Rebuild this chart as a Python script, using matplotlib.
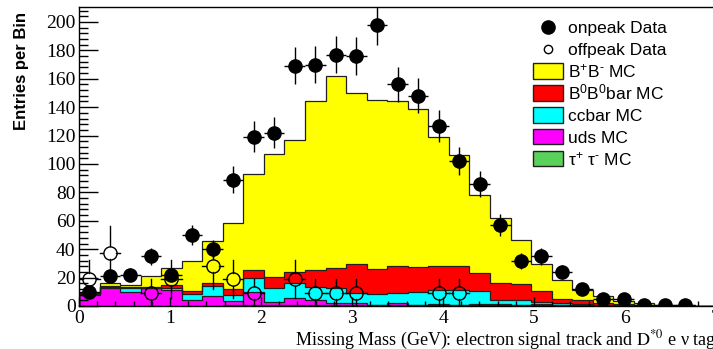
import numpy as np
import matplotlib.pyplot as plt
from matplotlib.patches import Rectangle
from matplotlib.lines import Line2D

# 31 bins of missing mass from 0 to 7 GeV
nbins = 31
edges = np.linspace(0, 7, nbins + 1)
centers = 0.5 * (edges[:-1] + edges[1:])
half = 0.5 * (edges[1] - edges[0])

# Monte Carlo components (entries per bin), stacked bottom to top
tautau = [0, 0, 0, 0, 0, 0.3, 0, 0.5, 0.5, 0.5, 0.5, 0.5, 0.5, 0.5, 0.5, 0.5,
          0.5, 0.5, 0.5, 0.5, 0.5, 0.5, 0.5, 0.5, 0.3, 0.2, 0.1, 0, 0, 0, 0]
uds = [8, 13, 10, 12.5, 11.5, 3.9, 7, 3, 9.4, 2, 5.4, 3.7, 1.8, 1.8, 0.5, 1.5,
       0.5, 1, 0.5, 1, 1, 0.5, 1, 0.5, 0.2, 0.2, 0.1, 0, 0, 0, 0]
ccbar = [0.5, 0.5, 3, 0.5, 1.5, 4.5, 7, 4, 10.1, 10.5, 10.1, 8.9, 10.1, 7.1, 7.2, 7.4,
         8.6, 9.5, 10.5, 9, 2.7, 3, 1.5, 1, 1, 0.6, 0.4, 0.2, 0, 0, 0]
b0b0bar = [0.5, 0.5, 0.3, 0.5, 1.5, 2, 2.5, 4.5, 5.2, 7.6, 8.2, 12.3, 14.1, 19.9, 17.8, 19,
           18.1, 17.4, 16.9, 13, 11.8, 11.5, 7.6, 3, 2.7, 1.3, 0.8, 0.5, 0.3, 0.2, 0.1]
bpbm = [0.5, 2, 1.2, 7.5, 12, 21.3, 29.5, 46.5, 67.8, 86.4, 92.8, 118.6, 135.5, 120.7, 119, 116,
        111, 90.8, 77.9, 54.5, 45.7, 31, 19, 13.3, 6.8, 4.5, 2.4, 1.3, 0.7, 0.3, 0.1]

# data
onpeak = [10, 21, 22, 35, 22, 50, 40, 89, 119, 122, 169, 170, 177, 176, 198, 156,
          148, 127, 102, 86, 57, 32, 35, 24, 12, 5, 5, 1, 1, 1, 0]
offpeak_counts = [2, 4, 0, 1, 2, 0, 3, 2, 1, 0, 2, 1, 1, 1, 0, 0,
                  0, 1, 1, 0, 0, 0, 0, 0, 0, 0, 0, 0, 0, 0, 0]
offpeak_scale = 9.4

legend_labels = ["onpeak Data", "offpeak Data", r"B$^{+}$B$^{\text{-}}$ MC",
                 "B$^{0}$B$^{0}$bar MC", "ccbar MC", "uds MC", r"τ$^{+}$ τ$^{\text{-}}$ MC"]

yellow, red, cyan, magenta, green = "#ffff00", "#ff0000", "#00ffff", "#ff00ff", "#5ad15a"
edge = "#202020"

layers = [tautau, uds, ccbar, b0b0bar, bpbm]
colors = [green, magenta, cyan, red, yellow]
cum = np.cumsum(np.array(layers, dtype=float), axis=0)

plt.rcParams["mathtext.rm"] = "Liberation Sans"
plt.rcParams["mathtext.it"] = "Liberation Sans:italic"

W, H = 713, 349
fig = plt.figure(figsize=(W / 100, H / 100), dpi=100)
ax = fig.add_axes([79 / W, 43 / H, 637 / W, 299 / H])

# stacked histograms, drawn from the full stack down
for i in range(len(layers) - 1, -1, -1):
    ax.stairs(cum[i], edges, fill=True, color=colors[i], zorder=2)
    ax.stairs(cum[i], edges, color=edge, lw=0.9, zorder=2.1)

# offpeak: hollow markers, error bars stop at the circle edge
on = np.array(onpeak, dtype=float)
offc = np.array(offpeak_counts, dtype=float)
off = offc * offpeak_scale
off_err = np.sqrt(offc) * offpeak_scale
ry = 4.6
rx = 0.072
for x, y, e in zip(centers, off, off_err):
    if y <= 0:
        continue
    ax.plot([x, x], [y + ry, y + e], color="k", lw=1, zorder=3)
    ax.plot([x, x], [max(y - e, 0), y - ry], color="k", lw=1, zorder=3)
    ax.plot([x - half, x - rx], [y, y], color="k", lw=1, zorder=3)
    ax.plot([x + rx, x + half], [y, y], color="k", lw=1, zorder=3)
m = off > 0
ax.plot(centers[m], off[m], "o", ms=9.5, mfc="none", mec="k", mew=1, zorder=3.1)

# onpeak: filled markers with sqrt(N) errors
m = on > 0
ax.errorbar(centers[m], on[m], yerr=np.sqrt(on[m]), xerr=half, fmt="o", color="k",
            ms=9.5, elinewidth=1, capsize=0, zorder=4)

ax.set_xlim(0, 7)
ax.set_ylim(0, 210.5)
ax.set_xticks(np.arange(0, 8, 1))
ax.set_xticks(np.arange(0, 7.01, 0.2), minor=True)
ax.set_yticks(np.arange(0, 201, 20))
ax.set_yticks(np.arange(0, 209, 4), minor=True)
ax.tick_params(axis="both", which="both", direction="in", top=False, right=False, colors="k")
ax.tick_params(axis="x", which="major", length=6.5, width=1, pad=3)
ax.tick_params(axis="x", which="minor", length=3.3, width=1)
ax.tick_params(axis="y", which="major", length=13.5, width=1, pad=2.5)
ax.tick_params(axis="y", which="minor", length=6.8, width=1)
for lab in ax.get_xticklabels() + ax.get_yticklabels():
    lab.set_fontfamily("Liberation Serif")
    lab.set_fontsize(14)
for s in ax.spines.values():
    s.set_linewidth(1)
    s.set_zorder(5)
ax.set_axisbelow(False)

fig.text(716 / W, 1 - 345 / H,
         r"Missing Mass (GeV): electron signal track and $\mathrm{D}^{*0}$ e ν tag",
         ha="right", va="baseline", fontsize=13, family="Liberation Serif",
         math_fontfamily="stix")
fig.text(22 / W, 1 - 12 / H, "Entries per Bin", rotation=90, ha="center", va="top",
         fontsize=12, fontweight="bold", family="Liberation Sans")

# legend
row_y = [27, 49, 71, 93, 115, 137, 159]
for k, (lab, yy) in enumerate(zip(legend_labels, row_y)):
    fy = 1 - yy / H
    if k == 0:
        fig.add_artist(Line2D([548 / W], [fy], marker="o", ms=9.5, color="k", ls="none"))
    elif k == 1:
        fig.add_artist(Line2D([548 / W], [fy], marker="o", ms=6, mfc="none", mec="k",
                              mew=1, ls="none"))
    else:
        fig.add_artist(Rectangle((533 / W, fy - 7.5 / H), 30 / W, 15 / H,
                                 transform=fig.transFigure, facecolor=colors[6 - k],
                                 edgecolor=edge, lw=1))
    fig.text(568 / W, 1 - (yy + 6) / H, lab, ha="left", va="baseline", fontsize=12.5,
             family="Liberation Sans", math_fontfamily="custom")

fig.savefig("out.png", dpi=100)
